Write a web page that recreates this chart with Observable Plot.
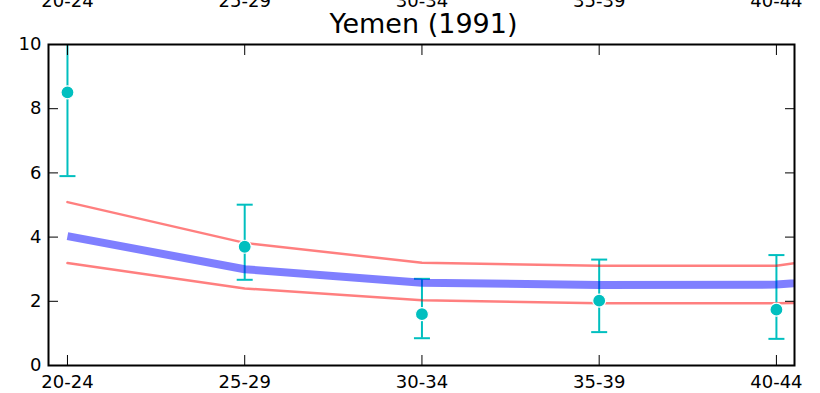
<!DOCTYPE html>
<html>
<head>
<meta charset="utf-8">
<script src="https://cdn.jsdelivr.net/npm/d3@7"></script>
<script src="https://cdn.jsdelivr.net/npm/@observablehq/plot@0.6"></script>
<style>
  html, body { margin: 0; padding: 0; background: #fff; }
  #chart svg { display: block; }
</style>
</head>
<body>
<div id="chart"></div>
<script>
// Age groups (x categories); last one lies beyond the visible range
const ageGroups = ["20-24", "25-29", "30-34", "35-39", "40-44", "45-49"];
const tickLabels = ["20-24", "25-29", "30-34", "35-39", "40-44"];
// Model estimate (thick blue line) and its bounds (thin red lines)
const modelMid   = [4.03, 3.00, 2.58, 2.51, 2.52, 2.93];
const modelUpper = [5.09, 3.82, 3.20, 3.11, 3.11, 3.90];
const modelLower = [3.19, 2.40, 2.03, 1.94, 1.94, 2.00];
// Observed points with error bars
const obsValue = [8.51, 3.70, 1.60, 2.02, 1.74];
const obsLow   = [5.90, 2.67, 0.85, 1.04, 0.83];
const obsHigh  = [11.2, 5.01, 2.70, 3.30, 3.44];
const titleText = "Yemen (1991)";

const lineData = ageGroups.map((g, i) => ({i, mid: modelMid[i], up: modelUpper[i], lo: modelLower[i]}));
const obsData = obsValue.map((v, i) => ({i, v, lo: obsLow[i], hi: obsHigh[i]}));

const teal = "#00bfbf";
const capSymbol = {
  draw(ctx) { ctx.moveTo(-8, 0); ctx.lineTo(8, 0); }
};

const chart = Plot.plot({
  width: 820,
  height: 393,
  marginLeft: 48,
  marginRight: 26,
  marginTop: 44,
  marginBottom: 28,
  style: {fontFamily: "'DejaVu Sans', sans-serif", fontSize: "18px", color: "#000", background: "#fff"},
  x: {domain: [-0.107, 4.102], label: null},
  y: {domain: [0, 10], label: null},
  marks: [
    Plot.ruleX(obsData, {x: "i", y1: "lo", y2: "hi", stroke: teal, strokeWidth: 2, clip: true}),
    Plot.dot(obsData, {x: "i", y: "lo", symbol: capSymbol, r: 5, fill: "none", stroke: teal, strokeWidth: 2, clip: true}),
    Plot.dot(obsData, {x: "i", y: "hi", symbol: capSymbol, r: 5, fill: "none", stroke: teal, strokeWidth: 2, clip: true}),
    Plot.line(lineData, {x: "i", y: "up", stroke: "#ff0000", strokeOpacity: 0.5, strokeWidth: 2.5, clip: true}),
    Plot.line(lineData, {x: "i", y: "lo", stroke: "#ff0000", strokeOpacity: 0.5, strokeWidth: 2.5, clip: true}),
    Plot.line(lineData, {x: "i", y: "mid", stroke: "#0000ff", strokeOpacity: 0.5, strokeWidth: 8, strokeLinecap: "butt", clip: true}),
    Plot.dot(obsData, {x: "i", y: "v", r: 6.5, fill: teal, stroke: "#fff", strokeWidth: 1.2, clip: true}),
    Plot.frame({stroke: "#000", strokeWidth: 2}),
    // bottom axis
    Plot.axisX({anchor: "bottom", ticks: [0,1,2,3,4], tickSize: -10, tickPadding: 20, tickFormat: i => tickLabels[i], fontSize: 18, label: null}),
    // top axis (labels mostly cut off at the top edge, as in the original)
    Plot.axisX({anchor: "top", ticks: [0,1,2,3,4], tickSize: -10, tickPadding: 48, tickFormat: i => tickLabels[i], fontSize: 18, label: null}),
    // left axis
    Plot.axisY({anchor: "left", ticks: [0,2,4,6,8,10], tickSize: -10, tickPadding: 17, fontSize: 18, label: null}),
    // right axis (ticks only)
    Plot.axisY({anchor: "right", ticks: [0,2,4,6,8,10], tickSize: -10, tickFormat: () => "", label: null}),
    Plot.text([titleText], {frameAnchor: "top", lineAnchor: "bottom", dy: -12, dx: 2, fontSize: 27, fill: "#000"})
  ]
});
document.getElementById("chart").appendChild(chart);
</script>
</body>
</html>
